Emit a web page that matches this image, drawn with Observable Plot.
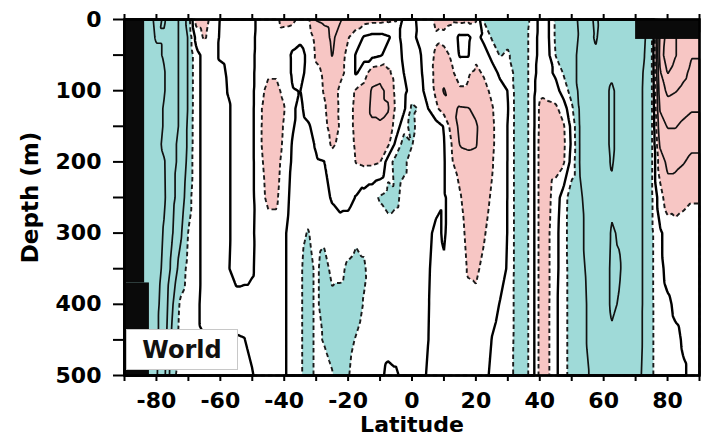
<!DOCTYPE html>
<html><head><meta charset="utf-8">
<script src="https://cdn.jsdelivr.net/npm/d3@7"></script>
<script src="https://cdn.jsdelivr.net/npm/@observablehq/plot@0.6"></script>
<style>
body{margin:0;background:#fff;}
#wrap{position:relative;width:701px;height:436px;}
#world{position:absolute;left:126px;top:329px;width:112px;height:41px;border:1px solid #c8c8c8;background:#fff;font:bold 24px "DejaVu Sans",sans-serif;display:flex;align-items:center;justify-content:center;box-sizing:border-box;color:#111;}
</style></head><body>
<div id="wrap"><div id="world">World</div></div>
<script>
// Grid: latitude columns (deg) x depth rows (m)
const lats = [-90,-87.5,-85,-82.5,-80,-77.5,-75,-72.5,-70,-67.5,-65,-62.5,-60,-57.5,-55,-52.5,-50,-47.5,-45,-42.5,-40,-37.5,-35,-32.5,-30,-27.5,-25,-22.5,-20,-17.5,-15,-12.5,-10,-7.5,-5,-2.5,0,2.5,5,7.5,10,12.5,15,17.5,20,22.5,25,27.5,30,32.5,35,37.5,40,42.5,45,47.5,50,52.5,55,57.5,60,62.5,65,67.5,70,72.5,75,77.5,80,82.5,85,87.5,90];
const depths = [0,25,50,75,100,125,150,175,200,250,300,350,400,450,500];
// one profile per latitude (values at the depths above)
const profiles = [
[5,5,5,5,5,5,5,5,5,5,5,5,5,5,5],
[5,5,5,5,5,5,5,5,5,5,5,5,5,5,5],
[5,5,5,5,5,5,5,5,5,5,5,5,5,5,5],
[4.3,4.4,4.6,4.8,4.8,4.8,4.8,4.8,4.8,4.8,4.8,4.8,4.8,4.8,4.8],
[3.8,3.9,4.2,4.4,4.4,4.4,4.4,4.3,4.4,4.5,4.4,4.3,4.2,4.2,4.1],
[4.1,3.9,3.9,4.05,4.05,3.9,3.9,3.8,4.05,4.1,3.9,3.8,3.6,3.4,3.2],
[3.3,3.3,3.3,3.3,3.3,3.3,3.3,3.2,3.2,3.2,3.05,2.7,2.1,1.7,1.3],
[2.9,2.9,2.9,2.9,2.9,2.9,2.9,2.8,2.8,2.6,2.2,1.6,0.85,0.7,0.6],
[1.6,1.9,1.9,1.9,1.9,1.9,1.8,1.8,1.7,1.4,0.95,0.7,0.5,0.3,0.2],
[-1.5,-0.4,0.3,0.3,0.3,0.3,0.3,0.3,0.3,0.3,0.3,0.3,0.2,0.2,0.2],
[-1.5,-1.15,-0.3,-0.3,-0.3,-0.3,-0.3,-0.3,-0.3,-0.3,-0.3,-0.3,-0.3,0.05,0.3],
[-0.6,-0.5,-0.3,-0.3,-0.3,-0.3,-0.3,-0.3,-0.3,-0.3,-0.3,-0.3,-0.3,0.05,0.3],
[0.05,0.1,0.1,-0.2,-0.3,-0.3,-0.3,-0.3,-0.3,-0.3,-0.3,-0.3,-0.3,0.05,0.3],
[0.2,0.3,0.2,0.1,0.05,-0.1,-0.1,-0.1,-0.1,-0.1,-0.1,-0.05,-0.3,0.05,0.3],
[0.3,0.3,0.3,0.3,0.3,0.3,0.3,0.3,0.3,0.3,0.3,0.3,-0.3,0.05,0.3],
[0.3,0.3,0.3,0.3,0.3,0.3,0.3,0.3,0.3,0.3,0.3,0.25,-0.3,0.02,0.25],
[0.2,0.2,0.2,0.2,0.2,0.2,0.2,0.2,0.2,0.2,0.15,0.1,-0.3,-0.2,0.05],
[-0.3,-0.4,-0.5,-0.6,-0.8,-0.9,-0.9,-0.9,-0.8,-0.7,-0.5,-0.4,-0.4,-0.3,-0.3],
[-0.4,-0.5,-0.6,-0.9,-1.2,-1.4,-1.5,-1.5,-1.4,-1.2,-0.6,-0.4,-0.4,-0.3,-0.3],
[-0.8,-0.6,-0.6,-0.9,-1.2,-1.4,-1.5,-1.5,-1.4,-1.2,-0.6,-0.4,-0.3,-0.3,-0.3],
[-1.35,-0.5,-0.4,-0.5,-0.8,-1.05,-0.9,-0.8,-0.6,-0.3,-0.1,-0.1,-0.1,-0.1,-0.1],
[-1.3,-0.3,0.1,0.1,-0.05,-0.1,-0.1,0.05,0.1,0.2,0.3,0.3,0.3,0.3,0.3],
[-0.7,-0.2,0.3,0.3,0.02,0.15,0.3,0.4,0.5,0.6,0.8,0.9,0.9,0.9,0.9],
[-0.8,-0.5,-0.2,-0.3,-0.4,-0.3,0.1,0.3,0.4,0.6,1.05,1.3,1.3,1.3,1.3],
[-2.05,-1.3,-1.15,-0.8,-0.7,-0.6,-0.3,-0.1,0.1,0.4,0.7,0.85,0.85,0.85,0.85],
[-2.2,-1.6,-1.3,-1.1,-1.05,-0.9,-0.8,-0.5,0.02,0.3,0.8,1.3,1.3,1.05,0.7],
[-2.3,-2.2,-2.05,-1.5,-1.4,-1.4,-1.3,-1.15,-0.6,-0.1,0.5,0.8,1.2,1.25,0.95],
[-2.1,-1.6,-1.3,-1.2,-0.85,-0.9,-0.95,-0.8,-0.5,-0.3,0.4,0.8,1.3,1.3,1.3],
[-1.6,-1.05,-0.8,-0.8,-0.7,-0.7,-0.7,-0.6,-0.4,-0.3,0.5,1.15,1.35,1.2,1.05],
[-1.5,-0.6,0.1,0.1,-1.1,-1.2,-1.2,-1.15,-1.05,0.05,0.8,1.3,1.3,0.95,0.7],
[-1.4,0.1,0.3,-0.5,-1.4,-1.5,-1.5,-1.4,-1.2,0.4,0.8,1.1,0.95,0.7,0.5],
[-1.3,0.3,0.3,-1.6,-2.1,-2.2,-1.8,-1.5,-1.2,0.7,0.6,0.6,0.7,0.6,0.4],
[-1.3,0.3,0.1,-1.7,-2.2,-2.2,-1.9,-1.6,-1.05,1.1,0.5,0.5,0.5,0.4,0.2],
[-1.2,0.1,-0.3,-1.2,-1.8,-2.1,-1.6,-1.2,0.5,1.4,0.5,0.4,0.4,0.3,-0.2],
[-1.1,-0.3,-0.5,-0.6,-0.7,-0.8,-0.6,0.3,1.4,1.2,0.5,0.4,0.3,0.3,-0.1],
[0.3,0.3,0.2,0.02,-0.3,-0.2,0.7,1.4,1.2,0.7,0.5,0.4,0.3,0.3,0.2],
[0.3,0.2,0.3,0.4,0.5,1.2,1.3,1.05,0.6,0.6,0.5,0.4,0.4,0.3,0.3],
[-0.3,-0.2,0.1,0.2,0.3,0.9,0.5,0.4,0.4,0.5,0.5,0.4,0.4,0.3,0.3],
[-0.6,-0.6,-0.7,-0.6,-0.4,0.02,0.3,0.3,0.3,0.4,0.2,0.1,0.05,0.02,-0.1],
[-1.2,-0.9,-1.1,-1.2,-1.2,-0.8,0.4,0.3,0.3,0.3,-0.2,-0.3,-0.3,-0.3,-0.3],
[-1.3,-0.8,-1.2,-1.5,-2.1,-1.5,-0.05,0.05,0.1,0.1,0.1,-0.1,-0.4,-0.4,-0.4],
[-1.2,-0.5,-0.9,-1.1,-1.4,-1.8,-1.5,-1.05,-0.95,-0.3,-0.4,-0.4,-0.4,-0.4,-0.4],
[-1.3,0.2,0.1,-0.7,-1.1,-2.1,-2.2,-2.05,-1.4,-0.9,-0.6,-0.4,-0.4,-0.3,-0.3],
[-1.2,0.2,0.1,-0.9,-1.1,-2.05,-2.2,-2.1,-1.8,-1.5,-1.3,-1.1,-0.7,-0.5,-0.4],
[-1.1,-0.4,-0.8,-1.2,-1.5,-1.8,-2.1,-2.05,-1.8,-1.6,-1.4,-1.15,-0.8,-0.5,-0.4],
[1.1,0.3,-0.5,-0.9,-1.3,-1.4,-1.6,-1.6,-1.5,-1.3,-1.1,-0.8,-0.5,-0.4,-0.3],
[1.3,1.1,0.3,-0.5,-0.8,-1.1,-1.2,-1.2,-1.1,-0.9,-0.6,-0.4,-0.2,0.02,0.2],
[1.4,1.3,1.05,0.2,-0.4,-0.5,-0.5,-0.5,-0.4,-0.4,-0.3,-0.2,0.02,0.2,0.3],
[1.3,1.2,0.9,0.4,0.02,-0.05,0.02,0.02,0.02,0.02,0.02,0.05,0.2,0.3,0.4],
[1.3,1.3,1.3,1.3,1.3,1.3,1.3,1.3,1.3,1.3,1.3,1.3,1.3,1.3,1.3],
[1.5,1.5,1.5,1.5,1.5,1.5,1.5,1.5,1.5,1.5,1.5,1.5,1.5,1.5,1.5],
[0.8,0.6,0.6,0.6,0.6,0.6,0.6,0.6,0.6,0.6,0.6,0.6,0.6,0.6,0.6],
[-0.3,-0.3,-0.3,-0.5,-0.8,-1.2,-1.2,-1.3,-1.3,-1.3,-1.3,-1.3,-1.3,-1.3,-1.3],
[-0.2,-0.2,-0.3,-0.3,-0.6,-1.3,-1.5,-1.5,-1.5,-1.3,-1.2,-1.2,-1.2,-1.2,-1.2],
[1.2,1.2,1.05,0.2,-0.4,-1.2,-1.4,-1.4,-1.4,-0.5,-0.3,-0.3,-0.2,-0.2,-0.2],
[1.4,1.4,1.3,1.1,0.5,-0.5,-1.1,-1.2,-1.1,0.5,0.6,0.6,0.6,0.6,0.6],
[1.5,1.6,1.7,1.7,1.4,0.8,0.3,0.2,0.4,1.6,1.6,1.5,1.5,1.5,1.5],
[2.2,2.1,2.2,2.2,2.2,2.1,2.05,2.05,2.05,1.9,1.8,1.8,1.7,1.7,1.7],
[2.4,2.3,2.4,2.4,2.4,2.4,2.3,2.3,2.3,2.2,2.2,2.1,2.05,2.05,1.95],
[1.8,1.9,2.1,2.6,2.6,2.6,2.6,2.6,2.6,2.5,2.5,2.4,2.4,2.3,2.3],
[2.5,2.4,2.6,2.7,2.8,2.8,2.8,2.8,2.8,2.7,2.7,2.7,2.7,2.6,2.5],
[2.7,2.5,2.7,2.9,3.1,3.1,3.1,3.1,3.05,2.9,3.05,3.1,3.1,2.9,2.7],
[2.6,2.5,2.7,2.8,2.8,2.8,2.8,2.8,2.8,2.8,2.95,3.05,2.95,2.8,2.7],
[2.8,2.7,2.7,2.7,2.7,2.7,2.7,2.7,2.7,2.7,2.7,2.7,2.7,2.6,2.6],
[2.8,2.8,2.7,2.6,2.6,2.6,2.6,2.6,2.6,2.6,2.6,2.6,2.6,2.5,2.5],
[2.3,2.2,2.1,1.95,1.9,1.9,1.9,1.9,1.9,1.9,1.9,1.9,1.9,1.9,1.8],
[1.5,1.3,1.2,1.2,1.2,1.2,1.2,1.2,1.2,1.2,1.2,1.2,1.2,1.2,1.2],
[-3.05,-4.05,-4.2,-3.8,-3.4,-3.05,-2.6,-2.1,-1.5,-0.5,0.2,0.2,0.3,0.3,0.3],
[-3.5,-5.5,-5.8,-5.05,-4.2,-3.6,-3.05,-2.6,-2.2,-1.6,-0.4,-0.2,0.1,0.2,0.2],
[-3.5,-5.05,-5.05,-4.5,-4.05,-3.5,-3.05,-2.6,-2.2,-1.5,-0.6,-0.3,-0.1,0.1,0.15],
[-3.5,-4.5,-4.5,-4.2,-3.8,-3.3,-2.8,-2.4,-2.05,-1.3,-0.5,-0.3,-0.15,-0.05,0.05],
[-3.5,-4.2,-4.05,-3.8,-3.6,-3.1,-2.6,-2.2,-1.8,-1.1,-0.5,-0.3,-0.2,-0.1,-0.1],
[-3.5,-4.2,-4.05,-3.8,-3.6,-3.1,-2.6,-2.2,-1.8,-1.1,-0.5,-0.3,-0.2,-0.1,-0.1]
];
// contour levels
const shadeLevels = [-1, 1];
const zeroLevel = [0];
const innerLevels = [-5, -4, -3, -2, 2, 3, 4];
// black masked areas (land / saturated contours)
const maskLat1 = [-90, -90, 70];
const maskLat2 = [-83.7, -82.2, 90];
const maskDepth1 = [0, 370, 0];
const maskDepth2 = [370, 500, 28];
// axis ticks
const xTicks = [-90,-80,-70,-60,-50,-40,-30,-20,-10,0,10,20,30,40,50,60,70,80,90];
const xLabels = [-80,-60,-40,-20,0,20,40,60,80];
const yTicks = [0,50,100,150,200,250,300,350,400,450,500];
const yLabels = [0,100,200,300,400,500];

const points = [];
lats.forEach((lat, i) => depths.forEach((depth, j) => points.push({lat, depth, v: profiles[i][j]})));

const teal = "#9fdad8", pink = "#f7c6c4";
const common = {x: "lat", y: "depth", interpolate: "barycentric", pixelSize: 1};
const font = "DejaVu Sans";

const chart = Plot.plot({
  width: 701, height: 436,
  marginLeft: 124, marginRight: 2, marginTop: 19, marginBottom: 61,
  x: {domain: [-90, 90], label: null},
  y: {domain: [0, 500], reverse: true, label: null},
  color: {type: "threshold", domain: [-1, 1], range: [pink, "white", teal]},
  style: {fontFamily: font, background: "white", color: "black"},
  marks: [
    Plot.contour(points, {...common, fill: "v", thresholds: [-10, -1, 1], stroke: "none"}),
    Plot.contour(points, {...common, value: "v", thresholds: innerLevels, stroke: "#111", strokeWidth: 1.7, fill: "none"}),
    Plot.contour(points, {...common, value: "v", thresholds: shadeLevels, stroke: "#1a1a1a", strokeWidth: 1.9, strokeDasharray: "4.5,3", fill: "none"}),
    Plot.contour(points, {...common, value: "v", thresholds: zeroLevel, stroke: "#000", strokeWidth: 2.4, fill: "none"}),
    Plot.rect(d3.range(maskLat1.length), {x1: i => maskLat1[i], x2: i => maskLat2[i], y1: i => maskDepth1[i], y2: i => maskDepth2[i], fill: "#0a0a0a"}),
    Plot.frame({stroke: "black", strokeWidth: 2.5}),
    Plot.axisX(xTicks, {anchor: "top", tickSize: 6, strokeWidth: 2, tickFormat: () => "", label: null}),
    Plot.axisX(xTicks, {anchor: "bottom", tickSize: 6, strokeWidth: 2, tickFormat: () => "", label: null}),
    Plot.axisX(xLabels, {anchor: "bottom", tickSize: 0, tickPadding: 17, fontSize: 22, fontWeight: "bold", fontFamily: font, tickFormat: d => String(d), label: null}),
    Plot.axisY(yTicks, {anchor: "left", tickSize: 11, strokeWidth: 2, tickFormat: () => "", label: null}),
    Plot.axisY(yLabels, {anchor: "left", tickSize: 0, tickPadding: 23, fontSize: 22, fontWeight: "bold", fontFamily: font, tickFormat: d => String(d), label: null}),
    Plot.text(["Latitude"], {text: d => d, frameAnchor: "bottom", dy: 56, lineAnchor: "bottom", textAnchor: "middle", fontSize: 22, fontWeight: "bold", fontFamily: font}),
    Plot.text(["Depth (m)"], {text: d => d, frameAnchor: "left", dx: -94, rotate: -90, textAnchor: "middle", lineAnchor: "middle", fontSize: 23, fontWeight: "bold", fontFamily: font})
  ]
});
document.getElementById("wrap").prepend(chart);
</script>
</body></html>
